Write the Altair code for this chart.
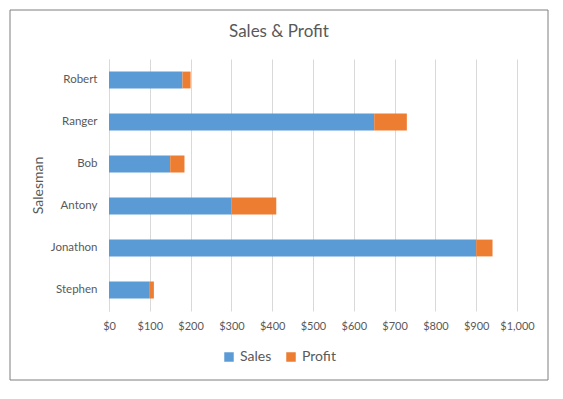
import altair as alt
import pandas as pd

salesman = ["Robert", "Ranger", "Bob", "Antony", "Jonathon", "Stephen"]
sales = [180, 650, 150, 300, 900, 100]
profit = [20, 80, 35, 110, 40, 10]
series = ["Sales", "Profit"]
colors = ["#5B9BD5", "#ED7D31"]
ticks = [0, 100, 200, 300, 400, 500, 600, 700, 800, 900, 1000]
chart_title = "Sales & Profit"

rows = []
for n, s, p in zip(salesman, sales, profit):
    rows.append({"Salesman": n, "Series": "Sales", "value": s, "ord": 0})
    rows.append({"Salesman": n, "Series": "Profit", "value": p, "ord": 1})
df = pd.DataFrame(rows)

FONT = "Lato"
TXT = "#595959"

bars = alt.Chart(df).mark_bar().encode(
    x=alt.X(
        "value:Q",
        stack="zero",
        scale=alt.Scale(domain=[0, 1000], nice=False),
        axis=alt.Axis(
            values=ticks, format="$,.0f", grid=True, gridColor="#d9d9d9",
            domain=False, ticks=False, labelPadding=9, title=None,
            labelOverlap=False, labelFlush=False,
            labelFont=FONT, labelFontSize=11, labelColor=TXT,
        ),
    ),
    y=alt.Y(
        "Salesman:N",
        sort=salesman,
        scale=alt.Scale(paddingInner=0.6, paddingOuter=0.3),
        axis=alt.Axis(
            title="Salesman", ticks=False, domainColor="#d9d9d9",
            labelPadding=12, labelFont=FONT, labelFontSize=11.5, labelColor=TXT,
            titleFont=FONT, titleFontSize=14, titleFontWeight="normal", titleColor=TXT,
            titleX=-71, titleY=126, titleAngle=-90, titleAlign="center", titleBaseline="middle",
        ),
    ),
    color=alt.Color(
        "Series:N",
        scale=alt.Scale(domain=series, range=colors),
        legend=alt.Legend(
            orient="none", legendX=113, legendY=291, direction="horizontal",
            title=None, symbolType="square", symbolSize=90, symbolStrokeWidth=0,
            labelFont=FONT, labelFontSize=14, labelColor=TXT, columnPadding=12,
        ),
    ),
    order=alt.Order("ord:Q"),
)

frame = alt.Chart(pd.DataFrame({"a": [0]})).mark_rect(
    fillOpacity=0, stroke="#7f7f7f", strokeWidth=1
).encode(
    x=alt.value(-99), x2=alt.value(439), y=alt.value(-49), y2=alt.value(321)
)

title = alt.Chart(pd.DataFrame({"t": [chart_title]})).mark_text(
    font=FONT, fontSize=17, color=TXT, align="center", baseline="middle"
).encode(
    text="t:N", x=alt.value(170), y=alt.value(-27)
)

chart = alt.layer(bars, frame, title).properties(
    width=408,
    height=252,
    autosize=alt.AutoSizeParams(type="none"),
    padding={"left": 101, "top": 51, "right": 38, "bottom": 70},
).configure_view(stroke=None)

chart.save("out.html", embed_options={"renderer": "svg", "actions": False})
